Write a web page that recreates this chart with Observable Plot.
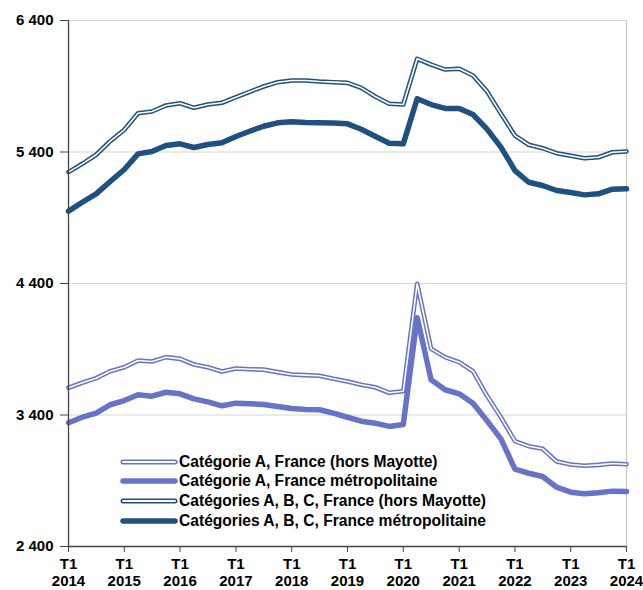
<!DOCTYPE html>
<html>
<head>
<meta charset="utf-8">
<script src="https://cdn.jsdelivr.net/npm/d3@7"></script>
<script src="https://cdn.jsdelivr.net/npm/@observablehq/plot@0.6"></script>
<style>
  html, body { margin: 0; padding: 0; background: #fff; }
  #wrap { position: relative; width: 643px; height: 590px; font-family: "Liberation Sans", Arial, sans-serif; }
  #legend { position: absolute; left: 120px; top: 452px; font-weight: bold; font-size: 15.6px; color: #000; }
  #legend .row { display: flex; align-items: center; height: 19.6px; }
  #legend svg { display: block; margin-right: 1px; }
</style>
</head>
<body>
<div id="wrap"><div id="legend"></div></div>
<script>
// Quarterly series, T1 2014 .. T1 2024 (41 quarters), in thousands
const startYear = 2014;
const endYear = 2024;

const seriesNames = [
  "Catégorie A, France (hors Mayotte)",
  "Catégorie A, France métropolitaine",
  "Catégories A, B, C, France (hors Mayotte)",
  "Catégories A, B, C, France métropolitaine"
];

const catA_horsMayotte = [
  3607, 3645, 3680, 3733, 3763, 3814, 3807, 3840, 3827, 3784,
  3763, 3731, 3754, 3748, 3745, 3726, 3708, 3703, 3698, 3675,
  3655, 3630, 3611, 3569, 3581, 4398, 3903, 3840, 3802, 3733,
  3548, 3383, 3201, 3163, 3143, 3046, 3024, 3014, 3021, 3031,
  3026
];
const catA_metro = [
  3341, 3383, 3414, 3478, 3510, 3554, 3543, 3573, 3561, 3523,
  3500, 3470, 3490, 3485, 3480, 3465, 3449, 3442, 3440, 3414,
  3383, 3353, 3338, 3313, 3328, 4140, 3668, 3592, 3561, 3490,
  3358, 3219, 2988, 2957, 2932, 2851, 2813, 2801, 2808, 2821,
  2818
];
const catABC_horsMayotte = [
  5247, 5310, 5379, 5482, 5569, 5695, 5708, 5754, 5771, 5736,
  5761, 5774, 5817, 5858, 5898, 5931, 5944, 5944, 5936, 5931,
  5926, 5888, 5822, 5767, 5761, 6109, 6065, 6027, 6033, 5982,
  5863, 5692, 5525, 5455, 5429, 5391, 5371, 5353, 5360, 5398,
  5404
];
const catABC_metro = [
  4950, 5018, 5082, 5176, 5267, 5386, 5404, 5449, 5462, 5434,
  5457, 5470, 5518, 5558, 5596, 5622, 5630, 5624, 5622, 5620,
  5614, 5573, 5520, 5467, 5462, 5805, 5761, 5731, 5731, 5685,
  5576, 5437, 5259, 5170, 5145, 5107, 5092, 5074, 5082, 5117,
  5120
];

const yTicks = [2400, 3400, 4400, 5400, 6400];
const yearTicks = d3.range(startYear, endYear + 1);

const lightColor = "#6673C6";
const darkColor = "#1F5080";

// build dates (first month of each quarter)
function quarterDate(i) {
  return new Date(Date.UTC(startYear + Math.floor(i / 4), (i % 4) * 3, 1));
}
function rows(values) {
  return values.map((v, i) => ({date: quarterDate(i), value: v}));
}
const dataA1 = rows(catA_horsMayotte);
const dataA2 = rows(catA_metro);
const dataC1 = rows(catABC_horsMayotte);
const dataC2 = rows(catABC_metro);

const xTickDates = yearTicks.map(y => new Date(Date.UTC(y, 0, 1)));
const xDomain = [xTickDates[0], xTickDates[xTickDates.length - 1]];
const yDomain = [yTicks[0], yTicks[yTicks.length - 1]];

const fmt = d => d3.format(",")(d).replace(/,/g, "\u00a0");

const chart = Plot.plot({
  width: 643,
  height: 590,
  marginLeft: 68,
  marginRight: 17,
  marginTop: 20,
  marginBottom: 44,
  style: {fontFamily: "'Liberation Sans', Arial, sans-serif", fontSize: "15px", fontWeight: "bold", color: "#000", background: "#fff"},
  x: {type: "utc", domain: xDomain},
  y: {domain: yDomain},
  marks: [
    Plot.gridY(yTicks.slice(1), {stroke: "#d6d6d6", strokeOpacity: 1, strokeWidth: 1.2}),
    Plot.ruleX([xDomain[1]], {stroke: "#c8c8c8", strokeWidth: 1.2}),
    // Catégorie A, hors Mayotte (double line)
    Plot.line(dataA1, {x: "date", y: "value", stroke: lightColor, strokeWidth: 4.6}),
    Plot.line(dataA1, {x: "date", y: "value", stroke: "#fff", strokeWidth: 1.6}),
    // Catégorie A, métropole (thick)
    Plot.line(dataA2, {x: "date", y: "value", stroke: lightColor, strokeWidth: 5.5}),
    // ABC hors Mayotte (double line)
    Plot.line(dataC1, {x: "date", y: "value", stroke: darkColor, strokeWidth: 4.6}),
    Plot.line(dataC1, {x: "date", y: "value", stroke: "#fff", strokeWidth: 1.6}),
    // ABC métropole (thick)
    Plot.line(dataC2, {x: "date", y: "value", stroke: darkColor, strokeWidth: 5.5}),
    Plot.axisY({ticks: yTicks, tickFormat: fmt, tickSize: 8, tickPadding: 7, stroke: "#444", fill: "#000", label: null}),
    Plot.axisX({ticks: xTickDates, tickFormat: d => `T1\n${d.getUTCFullYear()}`, tickSize: 6, tickPadding: 4, stroke: "#444", fill: "#000", label: null, lineHeight: 1.15}),
    Plot.ruleX([xDomain[0]], {stroke: "#444", strokeWidth: 1.3}),
    Plot.ruleY([yDomain[0]], {stroke: "#444", strokeWidth: 1.3})
  ]
});

const wrap = document.getElementById("wrap");
wrap.insertBefore(chart, wrap.firstChild);

// Legend
const legend = document.getElementById("legend");
const legendStyles = [
  {color: lightColor, double: true},
  {color: lightColor, double: false},
  {color: darkColor, double: true},
  {color: darkColor, double: false}
];
seriesNames.forEach((name, k) => {
  const st = legendStyles[k];
  const row = document.createElement("div");
  row.className = "row";
  const w = 58, h = 10;
  let sw = `<svg width="${w}" height="${h}"><line x1="3" y1="5" x2="${w - 3}" y2="5" stroke="${st.color}" stroke-width="${st.double ? 5 : 5.5}" stroke-linecap="round"/>`;
  if (st.double) sw += `<line x1="3" y1="5" x2="${w - 3}" y2="5" stroke="#fff" stroke-width="1.8" stroke-linecap="round"/>`;
  sw += `</svg>`;
  row.innerHTML = sw + `<span>${name}</span>`;
  legend.appendChild(row);
});
</script>
</body>
</html>
